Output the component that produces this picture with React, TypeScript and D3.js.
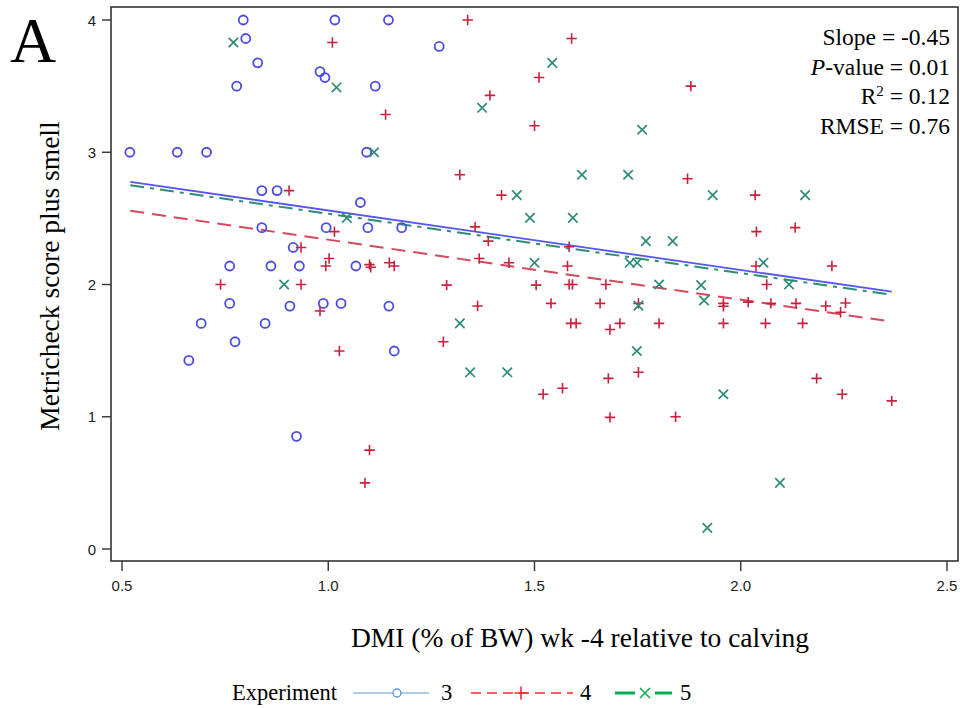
import React from "react";
import * as d3 from "d3";

const xTicks = [0.5, 1.0, 1.5, 2.0, 2.5];
const yTicks = [0, 1, 2, 3, 4];

const exp3: [number, number][] = [
  [0.794, 4.0], [0.8, 3.86], [0.829, 3.676], [0.778, 3.5], [1.016, 4.0], [1.146, 4.0],
  [0.98, 3.61], [0.992, 3.565], [1.114, 3.5], [0.519, 3.0], [0.634, 3.0], [0.705, 3.0],
  [1.093, 3.0], [0.839, 2.71], [0.876, 2.71], [1.269, 3.8], [1.078, 2.62], [0.839, 2.43],
  [0.995, 2.43], [1.096, 2.43], [1.178, 2.43], [0.915, 2.28], [0.761, 2.14], [0.861, 2.14],
  [0.93, 2.14], [1.067, 2.14], [0.761, 1.857], [0.907, 1.837], [0.988, 1.857], [1.031, 1.857],
  [1.147, 1.837], [0.692, 1.706], [0.847, 1.706], [0.774, 1.567], [1.16, 1.497], [0.662, 1.426],
  [0.923, 0.852],
];

const exp4: [number, number][] = [
  [1.01, 3.83], [1.139, 3.285], [0.905, 2.71], [1.338, 4.0], [1.59, 3.86], [1.511, 3.565],
  [1.392, 3.43], [1.5, 3.2], [1.319, 2.83], [1.871, 2.8], [1.879, 3.5], [1.42, 2.676],
  [2.035, 2.676], [2.038, 2.4], [2.132, 2.43], [2.221, 2.14], [2.037, 2.14], [2.063, 2.0],
  [1.958, 1.857], [1.958, 1.835], [2.018, 1.867], [2.073, 1.857], [2.134, 1.857], [2.206, 1.837],
  [2.254, 1.86], [2.242, 1.79], [1.958, 1.706], [2.06, 1.706], [2.15, 1.706], [2.184, 1.29],
  [2.246, 1.17], [2.366, 1.12], [1.842, 1.0], [1.356, 2.436], [1.388, 2.328], [1.584, 2.285],
  [1.366, 2.197], [1.438, 2.164], [1.58, 2.14], [1.287, 1.995], [1.504, 1.995], [1.584, 2.0],
  [1.592, 2.0], [1.673, 2.0], [1.362, 1.837], [1.54, 1.857], [1.659, 1.857], [1.752, 1.857],
  [1.802, 1.706], [1.707, 1.706], [1.683, 1.66], [1.588, 1.706], [1.601, 1.706], [1.279, 1.567],
  [1.752, 1.336], [1.679, 1.29], [1.521, 1.17], [1.568, 1.215], [1.683, 0.995], [1.015, 2.4],
  [0.934, 2.28], [1.002, 2.197], [0.994, 2.14], [1.1, 2.15], [1.103, 2.13], [1.148, 2.164],
  [1.16, 2.14], [0.739, 2.0], [0.934, 2.0], [0.98, 1.8], [1.027, 1.497], [1.1, 0.748],
  [1.089, 0.5],
];

const exp5: [number, number][] = [
  [0.77, 3.83], [1.02, 3.49], [1.111, 3.0], [1.543, 3.676], [1.373, 3.336], [1.761, 3.17],
  [1.615, 2.83], [1.727, 2.83], [1.457, 2.676], [1.932, 2.676], [2.156, 2.676], [2.055, 2.165],
  [1.904, 1.995], [2.117, 2.0], [1.911, 1.88], [1.489, 2.504], [1.593, 2.504], [1.77, 2.328],
  [1.835, 2.328], [1.5, 2.164], [1.731, 2.164], [1.749, 2.164], [1.802, 2.0], [1.752, 1.84],
  [1.319, 1.706], [1.748, 1.497], [1.344, 1.336], [1.434, 1.336], [1.958, 1.17], [2.095, 0.5],
  [1.919, 0.16], [1.045, 2.504], [0.893, 2.0],
];

// fitted lines: [slope, intercept] per experiment, over x range
const fitRange = [0.52, 2.366];
const fit3 = [-0.45, 3.01];
const fit4 = [-0.454, 2.793];
const fit5 = [-0.449, 2.984];

const statLines = ["Slope = -0.45", "P-value = 0.01", "R2 = 0.12", "RMSE = 0.76"];

const serif = "'Liberation Serif', 'Times New Roman', serif";
const sans = "'Liberation Sans', Arial, sans-serif";

const C3 = "#4b4be6";
const C4 = "#c9213d";
const C5 = "#2e8b79";

export default function App() {
  const x = d3.scaleLinear().domain([0.5, 2.5]).range([122, 947]);
  const y = d3.scaleLinear().domain([0, 4]).range([549, 20]);
  const left = 111, right = 958, top = 7, bottom = 561;

  const fitPath = (f: number[]) =>
    d3.line<number>().x((v) => x(v)).y((v) => y(f[0] * v + f[1]))(fitRange);

  const plus = (cx: number, cy: number, s: number) =>
    `M${cx - s},${cy}H${cx + s}M${cx},${cy - s}V${cy + s}`;
  const cross = (cx: number, cy: number, s: number) =>
    `M${cx - s},${cy - s}L${cx + s},${cy + s}M${cx - s},${cy + s}L${cx + s},${cy - s}`;

  return (
    <svg width={960} height={708} style={{ position: "absolute", left: 0, top: 0, background: "#fff" }}>
      <rect x={0} y={0} width={960} height={708} fill="#fff" />
      <text x={10} y={62} fontFamily={serif} fontSize={64} fill="#000">A</text>

      {/* frame */}
      <rect x={left} y={top} width={right - left} height={bottom - top} fill="none" stroke="#333" strokeWidth={1.6} />

      {yTicks.map((t) => (
        <g key={"y" + t}>
          <line x1={left - 9} x2={left} y1={y(t)} y2={y(t)} stroke="#333" strokeWidth={1.4} />
          <text x={left - 15} y={y(t) + 5.5} textAnchor="end" fontFamily={sans} fontSize={15} fill="#222">{t}</text>
        </g>
      ))}
      {xTicks.map((t) => (
        <g key={"x" + t}>
          <line x1={x(t)} x2={x(t)} y1={bottom} y2={bottom + 10} stroke="#333" strokeWidth={1.4} />
          <text x={x(t)} y={bottom + 30} textAnchor="middle" fontFamily={sans} fontSize={15} fill="#222">{t.toFixed(1)}</text>
        </g>
      ))}

      <text transform={`translate(59,${(top + bottom) / 2 - 8}) rotate(-90)`} textAnchor="middle" fontFamily={serif} fontSize={27.5} fill="#000">
        Metricheck score plus smell
      </text>
      <text x={580} y={647} textAnchor="middle" fontFamily={serif} fontSize={27.5} fill="#000">
        DMI (% of BW) wk -4 relative to calving
      </text>

      {/* fit lines */}
      <path d={fitPath(fit4) || ""} fill="none" stroke="#d9475c" strokeWidth={2} strokeDasharray="14 8" />
      <path d={fitPath(fit5) || ""} fill="none" stroke={C5} strokeWidth={2} strokeDasharray="14 6 4 6" />
      <path d={fitPath(fit3) || ""} fill="none" stroke="#5555f0" strokeWidth={1.8} />

      {/* points */}
      {exp3.map((d, i) => (
        <circle key={"a" + i} cx={x(d[0])} cy={y(d[1])} r={4.5} fill="none" stroke={C3} strokeWidth={1.8} />
      ))}
      {exp4.map((d, i) => (
        <path key={"b" + i} d={plus(x(d[0]), y(d[1]), 5.2)} stroke={C4} strokeWidth={1.6} fill="none" />
      ))}
      {exp5.map((d, i) => (
        <path key={"c" + i} d={cross(x(d[0]), y(d[1]), 4.7)} stroke={C5} strokeWidth={1.7} fill="none" />
      ))}

      {/* stats */}
      {statLines.map((s, i) => {
        const yy = 45 + i * 29.5;
        if (i === 1)
          return (
            <text key={s} x={950} y={yy} textAnchor="end" fontFamily={serif} fontSize={23.5} fill="#000">
              <tspan fontStyle="italic">P</tspan>-value = 0.01
            </text>
          );
        if (i === 2)
          return (
            <text key={s} x={950} y={yy} textAnchor="end" fontFamily={serif} fontSize={23.5} fill="#000">
              R<tspan dy={-8} fontSize={15}>2</tspan><tspan dy={8}> = 0.12</tspan>
            </text>
          );
        return (
          <text key={s} x={950} y={yy} textAnchor="end" fontFamily={serif} fontSize={23.5} fill="#000">{s}</text>
        );
      })}

      {/* legend */}
      <g fontFamily={serif} fontSize={22.5} fill="#000">
        <text x={232} y={700}>Experiment</text>
        <line x1={353} x2={429} y1={693} y2={693} stroke="#5b9bd5" strokeWidth={1.2} />
        <circle cx={397} cy={693} r={4} fill="#fff" stroke="#5b9bd5" strokeWidth={1.4} />
        <text x={441} y={700}>3</text>
        <line x1={471} x2={573} y1={693} y2={693} stroke="#ff2a2a" strokeWidth={1.3} strokeDasharray="10 6" />
        <path d={plus(521, 693, 6.5)} stroke="#ff2a2a" strokeWidth={1.6} />
        <text x={580} y={700}>4</text>
        <line x1={615} x2={635} y1={693} y2={693} stroke="#00b050" strokeWidth={3} />
        <line x1={655} x2={672} y1={693} y2={693} stroke="#00b050" strokeWidth={3} />
        <path d={cross(645, 693, 5)} stroke="#00b050" strokeWidth={1.5} />
        <text x={680} y={700}>5</text>
      </g>
    </svg>
  );
}
